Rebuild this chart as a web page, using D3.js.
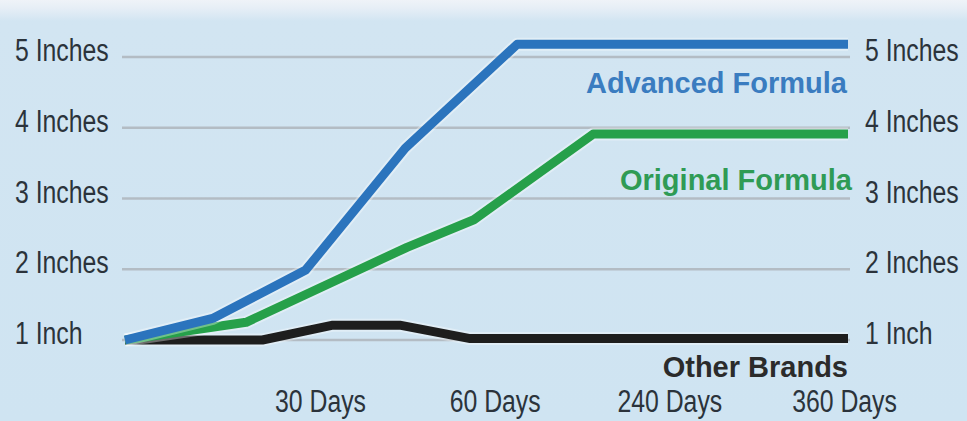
<!DOCTYPE html>
<html>
<head>
<meta charset="utf-8">
<script src="https://cdn.jsdelivr.net/npm/d3@7"></script>
<style>
  html, body { margin: 0; padding: 0; background: #cfe4f2; }
  svg { display: block; }
</style>
</head>
<body>
<svg id="chart" width="967" height="421"></svg>
<script>
// values (x = position along the time axis, y = inches)
const dayLabels = ["30 Days", "60 Days", "240 Days", "360 Days"];
const inchValues = [1, 2, 3, 4, 5];
const inchLabels = ["1 Inch", "2 Inches", "3 Inches", "4 Inches", "5 Inches"];

const advancedX = [0, 0.49, 1.0, 1.55, 2.17, 4];
const advancedY = [1, 1.31, 1.99, 3.71, 5.18, 5.18];
const originalX = [0, 0.67, 1.56, 1.93, 2.59, 4];
const originalY = [1, 1.25, 2.31, 2.70, 3.91, 3.91];
const otherX = [0, 0.76, 1.15, 1.52, 1.91, 4];
const otherY = [1, 1.0, 1.21, 1.21, 1.02, 1.02];

const seriesNames = ["Advanced Formula", "Original Formula", "Other Brands"];
const seriesColors = ["#2b74bd", "#26a04a", "#1e1e1e"];
const labelColors = ["#3a7cc0", "#2f9b55", "#2b2b2b"];

const width = 967, height = 421;
const svg = d3.select("#chart");

// background with the pale band at the top
const defs = svg.append("defs");
const grad = defs.append("linearGradient")
    .attr("id", "bg")
    .attr("x1", 0).attr("y1", 0).attr("x2", 0).attr("y2", 1);
grad.append("stop").attr("offset", "0%").attr("stop-color", "#eff3f8");
grad.append("stop").attr("offset", "2%").attr("stop-color", "#e6eef6");
grad.append("stop").attr("offset", "5%").attr("stop-color", "#d2e5f2");
grad.append("stop").attr("offset", "100%").attr("stop-color", "#cfe4f2");

svg.append("rect")
    .attr("width", width)
    .attr("height", height)
    .attr("fill", "url(#bg)");

const x = d3.scaleLinear().domain([0, 4]).range([125, 848]);
const y = d3.scaleLinear().domain([1, 5]).range([340, 57]);
const dayScale = d3.scalePoint().domain(dayLabels).range([320, 844]);

// no condensed face installed, so squeeze a regular one
const axisFont = "'Liberation Sans', Arial, sans-serif";
const squeeze = 0.8;

// gridlines
svg.append("g")
    .selectAll("line")
    .data(inchValues)
    .join("line")
    .attr("x1", 122)
    .attr("x2", 850)
    .attr("y1", d => y(d))
    .attr("y2", d => y(d))
    .attr("stroke", "#b3bcc4")
    .attr("stroke-width", 2.5);

// inch labels on both sides
[15, 865].forEach(lx => {
    svg.append("g")
        .selectAll("text")
        .data(inchValues)
        .join("text")
        .attr("transform", d => `translate(${lx},${y(d) + 4}) scale(${squeeze},1)`)
        .attr("font-family", axisFont)
        .attr("font-size", 31)
        .attr("fill", "#2b333b")
        .text((d, i) => inchLabels[i]);
});

// day labels
const xAxis = d3.axisBottom(dayScale).tickSize(0).tickPadding(0);
const xAxisG = svg.append("g")
    .attr("transform", "translate(0,392)")
    .call(xAxis);
xAxisG.select(".domain").remove();
xAxisG.selectAll("text")
    .attr("dy", null)
    .attr("y", null)
    .attr("transform", `translate(0,20) scale(${squeeze},1)`)
    .attr("font-family", axisFont)
    .attr("font-size", 31)
    .attr("fill", "#2b333b");

// lines
const line = d3.line()
    .x(d => x(d[0]))
    .y(d => y(d[1]));

const series = [
    d3.zip(otherX, otherY),
    d3.zip(originalX, originalY),
    d3.zip(advancedX, advancedY)
];
const order = [2, 1, 0];

series.forEach((pts, k) => {
    const i = order[k];
    svg.append("path")
        .datum(pts)
        .attr("d", line)
        .attr("fill", "none")
        .attr("stroke", "#ffffff")
        .attr("stroke-opacity", 0.35)
        .attr("stroke-width", 13)
        .attr("stroke-linejoin", "round");
    svg.append("path")
        .datum(pts)
        .attr("d", line)
        .attr("fill", "none")
        .attr("stroke", seriesColors[i])
        .attr("stroke-width", 9)
        .attr("stroke-linejoin", "round");
});

// series labels
const labelPos = [[847, 93], [852, 190], [848, 377]];
seriesNames.forEach((name, i) => {
    svg.append("text")
        .attr("x", labelPos[i][0])
        .attr("y", labelPos[i][1])
        .attr("text-anchor", "end")
        .attr("font-family", "'Liberation Sans', Arial, sans-serif")
        .attr("font-weight", "bold")
        .attr("font-size", 29)
        .attr("fill", labelColors[i])
        .text(name);
});
</script>
</body>
</html>
